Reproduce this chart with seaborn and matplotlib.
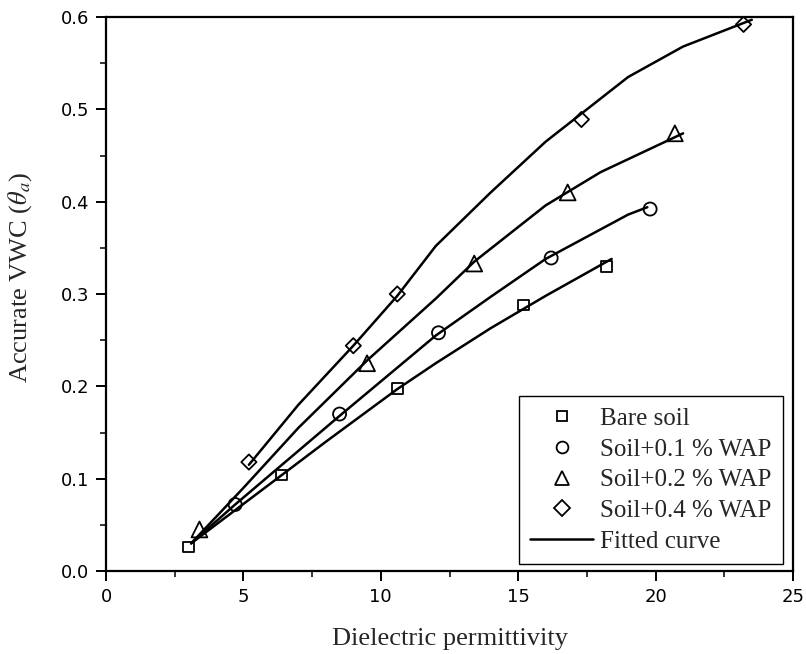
import matplotlib
matplotlib.use("Agg")
import matplotlib.pyplot as plt
import seaborn as sns
from matplotlib.lines import Line2D
from matplotlib.ticker import MultipleLocator, FormatStrFormatter

# measured points
bare_x = [3.0, 6.4, 10.6, 15.2, 18.2]
bare_y = [0.026, 0.104, 0.198, 0.288, 0.330]
w01_x = [4.7, 8.5, 12.1, 16.2, 19.8]
w01_y = [0.072, 0.170, 0.258, 0.339, 0.392]
w02_x = [3.4, 9.5, 13.4, 16.8, 20.7]
w02_y = [0.045, 0.225, 0.333, 0.410, 0.474]
w04_x = [5.2, 9.0, 10.6, 17.3, 23.2]
w04_y = [0.118, 0.244, 0.300, 0.489, 0.592]

# fitted curves
fit_bare_x = [3.1, 6.4, 8.0, 10.6, 12.0, 14.0, 16.0, 18.4]
fit_bare_y = [0.030, 0.104, 0.140, 0.197, 0.225, 0.263, 0.298, 0.338]
fit_w01_x = [3.1, 4.7, 8.5, 12.0, 14.0, 16.0, 19.0, 19.7]
fit_w01_y = [0.030, 0.072, 0.168, 0.255, 0.297, 0.338, 0.386, 0.394]
fit_w02_x = [3.1, 5.0, 7.0, 9.5, 12.0, 13.4, 16.0, 18.0, 21.0]
fit_w02_y = [0.030, 0.090, 0.155, 0.228, 0.295, 0.335, 0.396, 0.432, 0.474]
fit_w04_x = [5.2, 7.0, 9.0, 10.6, 12.0, 14.0, 16.0, 19.0, 21.0, 23.5]
fit_w04_y = [0.115, 0.180, 0.244, 0.298, 0.352, 0.410, 0.465, 0.535, 0.568, 0.597]

labels = ["Bare soil", "Soil+0.1 % WAP", "Soil+0.2 % WAP", "Soil+0.4 % WAP"]
markers = ["s", "o", "^", "D"]
msizes = [60, 88, 130, 60]

sns.set_theme(style="ticks")
plt.rcParams["font.family"] = ["DejaVu Sans"]
plt.rcParams["mathtext.fontset"] = "stix"

fig = plt.figure(figsize=(8.06, 6.54), dpi=100)
ax = fig.add_axes([106/806, (654-571)/654, (793-106)/806, (571-17)/654])

fits = [(fit_bare_x, fit_bare_y), (fit_w01_x, fit_w01_y),
        (fit_w02_x, fit_w02_y), (fit_w04_x, fit_w04_y)]
for fx, fy in fits:
    sns.lineplot(x=fx, y=fy, ax=ax, color="black", lw=1.8, sort=False,
                 legend=False, zorder=2)

pts = [(bare_x, bare_y), (w01_x, w01_y), (w02_x, w02_y), (w04_x, w04_y)]
for (px, py), m, s in zip(pts, markers, msizes):
    sns.scatterplot(x=px, y=py, ax=ax, marker=m, s=s, facecolor="none",
                    edgecolor="black", linewidth=1.3, legend=False, zorder=3)

ax.set_xlim(0, 25)
ax.set_ylim(0, 0.6)
ax.xaxis.set_major_locator(MultipleLocator(5))
ax.xaxis.set_minor_locator(MultipleLocator(2.5))
ax.yaxis.set_major_locator(MultipleLocator(0.1))
ax.yaxis.set_minor_locator(MultipleLocator(0.05))
ax.yaxis.set_major_formatter(FormatStrFormatter("%.1f"))
ax.tick_params(which="major", direction="out", length=7, width=1.4,
               labelsize=13, colors="black", pad=5)
ax.tick_params(which="minor", direction="out", length=4, width=1.3)
for sp in ax.spines.values():
    sp.set_linewidth(1.6)
    sp.set_color("black")

ax.set_xlabel("Dielectric permittivity", family="Liberation Serif",
              fontsize=19, labelpad=16)
ax.set_ylabel(r"Accurate VWC ($\theta_a$)", family="Liberation Serif",
              fontsize=19)
ax.yaxis.set_label_coords(-0.105, 0.53)

handles = [Line2D([], [], ls="none", marker=m, markersize=ms,
                  markerfacecolor="none", markeredgecolor="black",
                  markeredgewidth=1.3)
           for m, ms in zip(["s", "o", "^", "D"], [7.5, 8.5, 10.5, 8.0])]
handles.append(Line2D([], [], color="black", lw=1.8))
leg = ax.legend(handles, labels + ["Fitted curve"], loc="lower right",
                bbox_to_anchor=((783 - 106) / 687, (571 - 564) / 554),
                frameon=True, fancybox=False, framealpha=1, edgecolor="black",
                prop={"family": "Liberation Serif", "size": 18},
                handlelength=2.5, handletextpad=0.3, labelspacing=0.33,
                borderpad=0.45, borderaxespad=0.0)
leg.get_frame().set_linewidth(1.0)

fig.savefig("out.png", dpi=100)
